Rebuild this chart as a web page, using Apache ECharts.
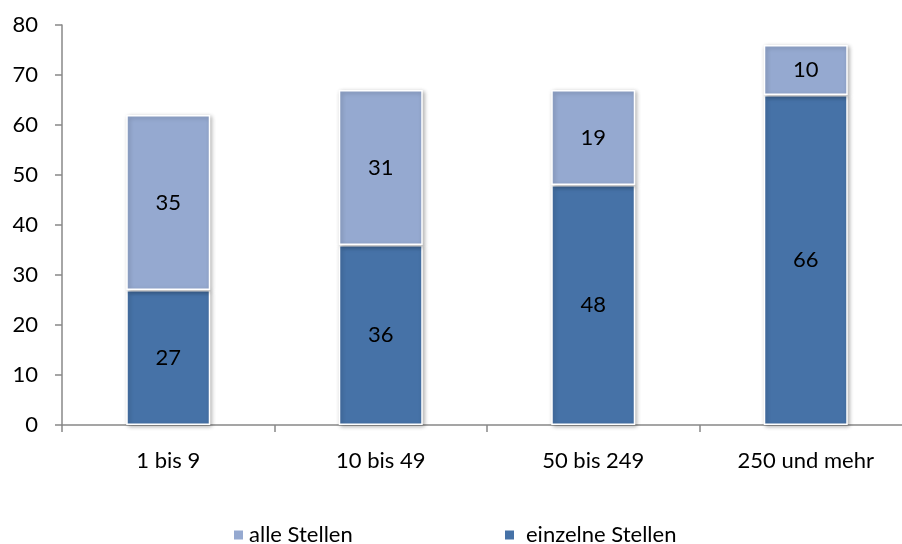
<!DOCTYPE html>
<html>
<head>
<meta charset="utf-8">
<script src="https://cdn.jsdelivr.net/npm/echarts@6/dist/echarts.min.js"></script>
<style>
  html, body { margin: 0; padding: 0; background: #fff; overflow: hidden; }
  /* the plot area runs slightly past the right edge of the view */
  #chart { width: 912px; height: 544px; }
</style>
</head>
<body>
<div id="chart"></div>
<script>
// Unternehmensgrößenklassen und Anteile
const categories = ['1 bis 9', '10 bis 49', '50 bis 249', '250 und mehr'];
const einzelneStellen = [27, 36, 48, 66];
const alleStellen = [35, 31, 19, 10];
const yTicks = { min: 0, max: 80, interval: 10 };

const font = 'Lato, "Open Sans", sans-serif';
const fontSize = 22;
const axisGray = '#888888';

const barStyle = (color) => ({
  color: color,
  borderColor: '#ffffff',
  borderWidth: 1.5,
  shadowColor: 'rgba(0,0,0,0.28)',
  shadowBlur: 4,
  shadowOffsetX: 1.5,
  shadowOffsetY: 1.5
});

const labelStyle = {
  show: true,
  position: 'inside',
  color: '#000000',
  fontSize: fontSize,
  fontFamily: font
};

const chart = echarts.init(document.getElementById('chart'), null, { renderer: 'canvas' });
chart.setOption({
  animation: false,
  backgroundColor: '#ffffff',
  grid: { left: 62, top: 25, bottom: 119, right: 0, containLabel: false },
  legend: [
    {
      data: ['alle Stellen'],
      left: 227, top: 519,
      icon: 'rect', itemWidth: 11, itemHeight: 11, itemGap: 4,
      textStyle: { fontSize: fontSize, fontFamily: font, color: '#000' }
    },
    {
      data: ['einzelne Stellen'],
      left: 498, top: 519,
      icon: 'rect', itemWidth: 11, itemHeight: 11, itemGap: 4,
      textStyle: { fontSize: fontSize, fontFamily: font, color: '#000', padding: [0, 0, 0, 6] }
    }
  ],
  xAxis: {
    type: 'category',
    data: categories,
    boundaryGap: true,
    axisLine: { show: true, lineStyle: { color: axisGray, width: 1.5 } },
    axisTick: { show: true, length: 7, alignWithLabel: false, lineStyle: { color: axisGray, width: 1.5 } },
    axisLabel: { margin: 25, color: '#000', fontSize: fontSize, fontFamily: font },
    splitLine: { show: false }
  },
  yAxis: {
    type: 'value',
    min: yTicks.min, max: yTicks.max, interval: yTicks.interval,
    axisLine: { show: true, lineStyle: { color: axisGray, width: 1.5 } },
    axisTick: { show: true, length: 7, lineStyle: { color: axisGray, width: 1.5 } },
    axisLabel: { margin: 24, color: '#000', fontSize: fontSize, fontFamily: font },
    splitLine: { show: false }
  },
  series: [
    {
      name: 'einzelne Stellen',
      type: 'bar',
      stack: 'total',
      barWidth: 84,
      data: einzelneStellen,
      itemStyle: barStyle('#4672A7'),
      label: labelStyle
    },
    {
      name: 'alle Stellen',
      type: 'bar',
      stack: 'total',
      barWidth: 84,
      data: alleStellen,
      itemStyle: barStyle('#95A9D0'),
      label: labelStyle
    }
  ]
});
</script>
</body>
</html>
